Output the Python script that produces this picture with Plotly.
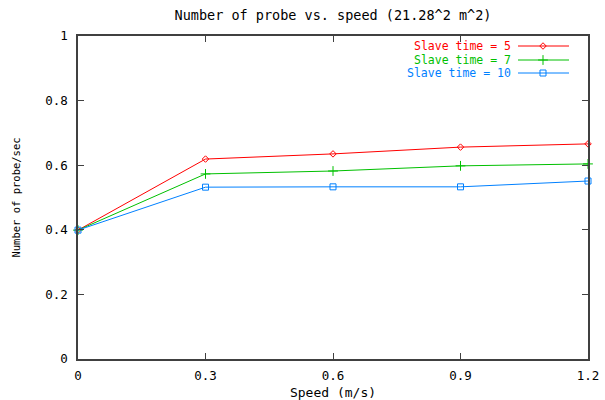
import plotly.graph_objects as go

speed = [0, 0.3, 0.6, 0.9, 1.2]
slave5 = [0.399, 0.619, 0.635, 0.656, 0.666]
slave7 = [0.399, 0.573, 0.582, 0.598, 0.604]
slave10 = [0.399, 0.532, 0.533, 0.533, 0.551]
labels = ["Slave time = 5", "Slave time = 7", "Slave time = 10"]
x_ticks = [0, 0.3, 0.6, 0.9, 1.2]
x_ticktext = ["0", "0.3", "0.6", "0.9", "1.2"]
y_ticks = [0, 0.2, 0.4, 0.6, 0.8, 1]
y_ticktext = ["0", "0.2", "0.4", "0.6", "0.8", "1"]

colors = ["#ff0000", "#00c000", "#0080ff"]
symbols = ["diamond-open", "cross-thin-open", "square-open"]
msizes = [5, 7, 6]
FONT = "DejaVu Sans Mono"

fig = go.Figure()
for vals, lab, c, s, ms in zip([slave5, slave7, slave10], labels, colors, symbols, msizes):
    fig.add_trace(go.Scatter(
        x=speed, y=vals, mode="lines+markers", name=lab,
        line=dict(color=c, width=1),
        marker=dict(symbol=s, size=ms, color=c, line=dict(color=c, width=1)),
        cliponaxis=False, showlegend=False))

# manual gnuplot-style legend (text left of key)
L = 78; R = 588; T = 36; B = 359
W = R - L; H = B - T
rows_px = [46, 60, 73]
key_x0, key_x1, key_mid, text_right = 518, 569, 543, 512
for lab, c, s, ms, ypx in zip(labels, colors, symbols, msizes, rows_px):
    yp = (B - ypx) / H
    fig.add_trace(go.Scatter(
        x=[(key_x0 - L) / W, (key_x1 - L) / W], y=[yp, yp], mode="lines",
        line=dict(color=c, width=1), xaxis="x2", yaxis="y2",
        showlegend=False, hoverinfo="skip", cliponaxis=False))
    fig.add_trace(go.Scatter(
        x=[(key_mid - L) / W], y=[yp], mode="markers",
        marker=dict(symbol=s, size=ms, color=c, line=dict(color=c, width=1)),
        xaxis="x2", yaxis="y2", showlegend=False, hoverinfo="skip", cliponaxis=False))
    fig.add_annotation(
        x=(text_right - L) / W, y=yp, xref="paper", yref="paper",
        text=lab, showarrow=False, xanchor="right", yanchor="middle",
        borderpad=0, font=dict(family=FONT, size=11.5, color=c))

axis_common = dict(showgrid=False, zeroline=False, showline=True, mirror="ticks",
                   linecolor="#404040", linewidth=1.5, ticks="inside", ticklen=6,
                   tickcolor="#404040", automargin=False,
                   tickfont=dict(family=FONT, size=12.5, color="#000"))

fig.update_layout(
    width=605, height=400,
    margin=dict(l=L, r=605 - R, t=T, b=400 - B),
    paper_bgcolor="white", plot_bgcolor="white",
    title=dict(text="Number of probe vs. speed (21.28^2 m^2)", x=(L + R) / 2 / 605,
               xanchor="center", y=1 - 15 / 400, yanchor="middle",
               font=dict(family=FONT, size=13.5, color="#000")),
    xaxis=dict(range=[0, 1.2], tickvals=x_ticks, ticktext=x_ticktext, ticklabelstandoff=4,
               title=dict(text="Speed (m/s)", font=dict(family=FONT, size=13, color="#000"), standoff=10),
               **axis_common),
    yaxis=dict(range=[0, 1], tickvals=y_ticks, ticktext=y_ticktext, ticklabelstandoff=6,
               title=dict(text="Number of probe/sec", font=dict(family=FONT, size=10.5, color="#000"), standoff=22),
               **axis_common),
    xaxis2=dict(range=[0, 1], overlaying="x", visible=False),
    yaxis2=dict(range=[0, 1], overlaying="y", visible=False),
    showlegend=False,
)

fig.write_html("out.html")
